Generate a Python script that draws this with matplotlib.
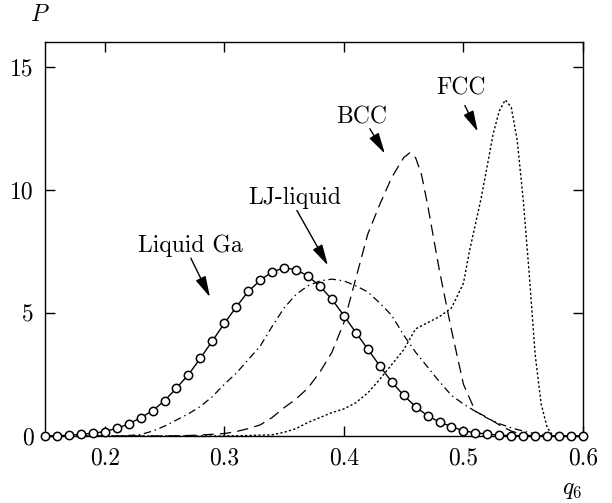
import matplotlib
matplotlib.use("Agg")
import matplotlib.pyplot as plt

plt.rcParams['font.family'] = ['cmr10', 'DejaVu Serif']
plt.rcParams['mathtext.fontset'] = 'cm'
plt.rcParams['axes.formatter.use_mathtext'] = True
plt.rcParams['axes.unicode_minus'] = False

# Liquid Ga (solid line with open circles)
q_ga = [0.15, 0.16, 0.17, 0.18, 0.19, 0.20, 0.21, 0.22, 0.23, 0.24,
        0.25, 0.26, 0.27, 0.28, 0.29, 0.30, 0.31, 0.32, 0.33, 0.34,
        0.35, 0.36, 0.37, 0.38, 0.39, 0.40, 0.41, 0.42, 0.43, 0.44,
        0.45, 0.46, 0.47, 0.48, 0.49, 0.50, 0.51, 0.52, 0.53, 0.54,
        0.55, 0.56, 0.57, 0.58, 0.59, 0.60]
p_ga = [0.0, 0.01, 0.03, 0.07, 0.11, 0.18, 0.31, 0.49, 0.74, 1.03,
        1.43, 1.95, 2.49, 3.16, 3.86, 4.57, 5.24, 5.87, 6.32, 6.67,
        6.82, 6.76, 6.49, 6.08, 5.55, 4.89, 4.20, 3.53, 2.85, 2.20,
        1.65, 1.19, 0.82, 0.57, 0.38, 0.21, 0.13, 0.08, 0.03, 0.02,
        0.01, 0.0, 0.0, 0.0, 0.0, 0.0]

# LJ liquid (dash-dot)
q_lj = [0.15, 0.20, 0.21, 0.22, 0.23, 0.24, 0.25, 0.26, 0.27, 0.28, 0.29,
        0.30, 0.31, 0.32, 0.33, 0.34, 0.35, 0.36, 0.37, 0.38, 0.39,
        0.40, 0.41, 0.42, 0.43, 0.44, 0.45, 0.46, 0.47, 0.48, 0.49,
        0.50, 0.51, 0.52, 0.53, 0.54, 0.55, 0.56, 0.57, 0.58, 0.60]
p_lj = [0.0, 0.0, 0.0, 0.02, 0.06, 0.2, 0.4, 0.65, 0.9, 1.2, 1.6,
        2.1, 2.55, 3.1, 3.65, 4.45, 5.2, 5.75, 6.1, 6.3, 6.37,
        6.3, 6.1, 5.85, 5.4, 4.9, 4.1, 3.4, 2.8, 2.2, 1.65,
        1.3, 1.0, 0.72, 0.5, 0.33, 0.2, 0.09, 0.02, 0.0, 0.0]

# BCC (dashed)
q_bcc = [0.15, 0.25, 0.26, 0.27, 0.28, 0.29, 0.30, 0.31, 0.32, 0.33, 0.34,
         0.35, 0.36, 0.37, 0.38, 0.39, 0.40, 0.41, 0.42, 0.43, 0.44,
         0.45, 0.455, 0.46, 0.465, 0.47, 0.48, 0.49, 0.50, 0.51, 0.52,
         0.53, 0.54, 0.55, 0.56, 0.60]
p_bcc = [0.0, 0.0, 0.01, 0.02, 0.04, 0.07, 0.1, 0.18, 0.3, 0.45, 0.75,
         1.15, 1.5, 1.95, 2.6, 3.4, 4.6, 6.4, 8.2, 9.4, 10.5,
         11.3, 11.5, 11.3, 10.6, 9.4, 6.7, 4.3, 2.1, 1.0, 0.75,
         0.45, 0.2, 0.05, 0.0, 0.0]

# FCC (dotted)
q_fcc = [0.15, 0.30, 0.32, 0.34, 0.35, 0.36, 0.37, 0.38, 0.39, 0.40,
         0.41, 0.42, 0.43, 0.44, 0.45, 0.46, 0.47, 0.48, 0.49, 0.50,
         0.505, 0.51, 0.515, 0.52, 0.525, 0.53, 0.535, 0.54, 0.545, 0.55,
         0.555, 0.56, 0.565, 0.57, 0.575, 0.60]
p_fcc = [0.0, 0.0, 0.02, 0.05, 0.15, 0.3, 0.55, 0.75, 0.95, 1.1,
         1.35, 1.75, 2.3, 2.9, 3.5, 4.35, 4.6, 4.85, 5.2, 6.2,
         7.5, 8.6, 9.7, 11.0, 12.3, 13.2, 13.65, 13.35, 12.0, 9.6,
         6.6, 3.3, 1.3, 0.35, 0.0, 0.0]

fig = plt.figure(figsize=(6.12, 5.03), dpi=100)
ax = fig.add_axes([0.0735, 0.1332, 0.8791, 0.7833])

ax.plot(q_fcc, p_fcc, color='black', lw=1.0, linestyle=(0, (1.6, 1.6)))
ax.plot(q_bcc, p_bcc, color='black', lw=0.9, linestyle=(0, (9, 5)))
ax.plot(q_lj, p_lj, color='black', lw=0.9, linestyle=(0, (6, 3, 1.2, 3)))
ax.plot(q_ga, p_ga, color='black', lw=1.0, marker='o', markersize=6,
        markerfacecolor='white', markeredgecolor='black', markeredgewidth=1.1,
        clip_on=False, zorder=5)

ax.set_xlim(0.15, 0.6)
ax.set_ylim(0, 16)
ax.set_xticks([0.2, 0.3, 0.4, 0.5, 0.6])
ax.set_xticklabels(['0.2', '0.3', '0.4', '0.5', '0.6'])
ax.set_yticks([0, 5, 10, 15])
ax.set_yticklabels(['0', '5', '10', '15'])
ax.tick_params(direction='in', length=7, width=1.0, top=True, right=True,
               labelsize=17, pad=8, colors='black')
for s in ax.spines.values():
    s.set_linewidth(1.0)

fig.text(40 / 612, 1 - 15 / 503, r'$P$', fontsize=17, ha='center', va='center')
fig.text(572 / 612, 1 - 490 / 503, r'$q_6$', fontsize=17, ha='center', va='center')

arrow = dict(arrowstyle='-|>,head_length=0.85,head_width=0.22', color='black',
             lw=1.0, shrinkA=0, shrinkB=0, mutation_scale=15)
labels = [("Liquid Ga", (0.2712, 7.74), (0.272, 7.22), (0.288, 5.64)),
          ("LJ-liquid", (0.359, 9.65), (0.3607, 9.16), (0.3866, 6.93)),
          ("BCC", (0.415, 12.93), (0.4217, 12.48), (0.4343, 11.47)),
          ("FCC", (0.4978, 14.11), (0.5012, 13.42), (0.512, 12.36))]
for txt, tpos, tail, head in labels:
    ax.text(tpos[0], tpos[1], txt, fontsize=17, ha='center', va='center')
    ax.annotate('', xy=head, xytext=tail, arrowprops=arrow)

fig.savefig('out.png', dpi=100)
